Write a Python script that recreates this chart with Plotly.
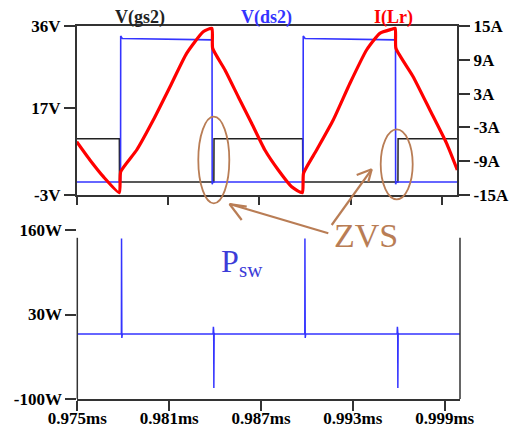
import plotly.graph_objects as go

W, H = 511, 430

# ---------------- data ----------------
# time axis ticks (ms)
tick_t = [0.975, 0.981, 0.987, 0.993, 0.999]
tick_t_text = ["0.975ms", "0.981ms", "0.987ms", "0.993ms", "0.999ms"]

# V(gs2) [V]
t_vgs = [0.975, 0.97780, 0.97781, 0.98401, 0.98402, 0.98984, 0.98985, 0.99610, 0.99611, 1.000]
v_vgs = [10, 10, 0, 0, 10, 10, 0, 0, 10, 10]

# V(ds2) [V]
t_vds = [0.975, 0.97788, 0.97789, 0.97800, 0.98389, 0.98390, 0.98394,
         0.98987, 0.98988, 0.99000, 0.99594, 0.99595, 0.99599, 1.000]
v_vds = [0, 0, 33.7, 33.1, 32.8, -0.5, 0,
         0, 33.7, 33.1, 32.8, -0.5, 0, 0]

# I(Lr) [A]
t_ilr = [0.97500, 0.97587, 0.97675, 0.97780, 0.97789, 0.97894, 0.98003, 0.98113,
         0.98222, 0.98331, 0.98388, 0.98393, 0.98474, 0.98561, 0.98649, 0.98736,
         0.98824, 0.98912, 0.98982, 0.98990, 0.99076, 0.99185, 0.99295, 0.99404,
         0.99491, 0.99568, 0.99592, 0.99597, 0.99710, 0.99820, 0.99929, 1.00000]
i_ilr = [-5.54, -8.79, -11.75, -14.6, -10.87, -7.01, -1.69, 4.22,
         10.15, 13.99, 14.59, 11.04, 7.19, 2.45, -2.27, -7.01,
         -10.56, -13.53, -14.6, -11.15, -7.01, -1.69, 4.83, 10.74,
         13.70, 14.41, 14.59, 11.04, 6.0, 0.09, -5.8, -10.56]

# Psw [W]
t_psw = [0.975, 0.97788, 0.97789, 0.97791, 0.97794,
         0.98387, 0.98389, 0.98391, 0.98392, 0.98394, 0.98398,
         0.98986, 0.98987, 0.98989, 0.98992,
         0.99589, 0.99591, 0.99593, 0.99594, 0.99596, 0.99600, 1.000]
p_psw = [0, 0, 147, -6, 0,
         0, 11, 5, -83, 1, 0,
         0, 147, -6, 0,
         0, 11, 5, -83, 1, 0, 0]

v_ticks = [-3, 17, 36]
v_tick_text = ["-3V", "17V", "36V"]
a_ticks = [-15, -9, -3, 3, 9, 15]
a_tick_text = ["-15A", "-9A", "-3A", "3A", "9A", "15A"]
p_ticks = [-100, 30, 160]
p_tick_text = ["-100W", "30W", "160W"]

# ---------------- style ----------------
BLUE = "#3434ff"
RED = "#ff0000"
BLACK = "#222222"
AXC = "#333333"
BROWN = "#b97d55"
SERIF = "Liberation Serif"
tickfont = dict(family=SERIF, size=17, color="black", weight="bold")


def px(x):
    return x / W


def py(y):
    return 1 - y / H


fig = go.Figure()
fig.add_trace(go.Scatter(x=t_vgs, y=v_vgs, xaxis="x", yaxis="y", mode="lines",
                         line=dict(color=BLACK, width=1.5), hoverinfo="skip"))
fig.add_trace(go.Scatter(x=t_vds, y=v_vds, xaxis="x", yaxis="y", mode="lines",
                         line=dict(color=BLUE, width=1.6), hoverinfo="skip"))
fig.add_trace(go.Scatter(x=t_ilr, y=i_ilr, xaxis="x", yaxis="y3", mode="lines",
                         line=dict(color=RED, width=3.2, shape="spline", smoothing=0.5),
                         hoverinfo="skip"))
fig.add_trace(go.Scatter(x=t_psw, y=p_psw, xaxis="x2", yaxis="y2", mode="lines",
                         line=dict(color=BLUE, width=1.5), hoverinfo="skip"))

common_ax = dict(showgrid=False, zeroline=False, linecolor=AXC, linewidth=1.5,
                 tickcolor=AXC, tickwidth=1.5, ticks="outside", tickfont=tickfont,
                 automargin=False)

fig.update_layout(
    template="none",
    width=W, height=H, margin=dict(l=0, r=0, t=0, b=0, pad=0),
    paper_bgcolor="white", plot_bgcolor="white", showlegend=False,
    xaxis=dict(domain=[px(76.7), px(457.3)], range=[0.975, 1.0], anchor="y",
               tickvals=tick_t, showticklabels=False, ticklen=8,
               showline=True, mirror=True, **common_ax),
    yaxis=dict(domain=[py(195), py(26)], range=[-3, 36], anchor="x",
               tickvals=v_ticks, ticktext=v_tick_text, ticklen=11,
               showline=True, **common_ax),
    yaxis3=dict(overlaying="y", side="right", anchor="x", range=[-15, 15],
                tickvals=a_ticks, ticktext=a_tick_text, ticklen=11,
                showline=True, **common_ax),
    xaxis2=dict(domain=[px(77.3), px(460)], range=[0.975, 1.0], anchor="y2",
                tickvals=tick_t, ticktext=tick_t_text, ticklen=10,
                ticklabelstandoff=-7,
                showline=True, **common_ax),
    yaxis2=dict(domain=[py(399), py(230)], range=[-100, 160], anchor="x2",
                tickvals=p_ticks, ticktext=p_tick_text, ticklen=11,
                showline=False, **common_ax),
)

shapes = []
# bottom panel side borders
for xd in (0, 1):
    shapes.append(dict(type="line", xref="x2 domain", yref="y2", x0=xd, x1=xd,
                       y0=-100, y1=148, line=dict(color=AXC, width=1.5)))
# ZVS ellipses
shapes.append(dict(type="circle", xref="paper", yref="paper",
                   x0=px(198.3), x1=px(229.3), y0=py(203.3), y1=py(116.7),
                   line=dict(color=BROWN, width=1.8)))
shapes.append(dict(type="circle", xref="paper", yref="paper",
                   x0=px(380.7), x1=px(412.7), y0=py(199.3), y1=py(129.3),
                   line=dict(color=BROWN, width=1.8)))
# arrows (shaft + open head)
arrows = [
    ((328.3, 233.3), (229.5, 204.0), (241.7, 220.0), (246.7, 206.7)),
    ((331.7, 225.0), (371.7, 169.3), (356.7, 175.0), (368.3, 182.0)),
]
for tail, tip, h1, h2 in arrows:
    for a, b in ((tail, tip), (h1, tip), (h2, tip)):
        shapes.append(dict(type="line", xref="paper", yref="paper",
                           x0=px(a[0]), y0=py(a[1]), x1=px(b[0]), y1=py(b[1]),
                           line=dict(color=BROWN, width=2.2)))
fig.update_layout(shapes=shapes)

ann = []
titles = [("V(gs2)", 140, BLACK), ("V(ds2)", 266, BLUE), ("I(Lr)", 393, RED)]
for txt, cx, col in titles:
    ann.append(dict(text=txt, x=px(cx), y=py(17), xref="paper", yref="paper",
                    showarrow=False, xanchor="center", yanchor="middle",
                    font=dict(family=SERIF, size=18, color=col, weight="bold")))
ann.append(dict(text="ZVS", x=px(366), y=py(235), xref="paper", yref="paper",
                showarrow=False, xanchor="center", yanchor="middle",
                font=dict(family=SERIF, size=34, color=BROWN)))
ann.append(dict(text="P", x=px(230), y=py(261), xref="paper", yref="paper",
                showarrow=False, xanchor="center", yanchor="middle",
                font=dict(family=SERIF, size=32, color="#3c3cd8")))
ann.append(dict(text="sw", x=px(251), y=py(270), xref="paper", yref="paper",
                showarrow=False, xanchor="center", yanchor="middle",
                font=dict(family=SERIF, size=21, color="#3c3cd8")))
fig.update_layout(annotations=ann)

fig.write_html("out.html")
